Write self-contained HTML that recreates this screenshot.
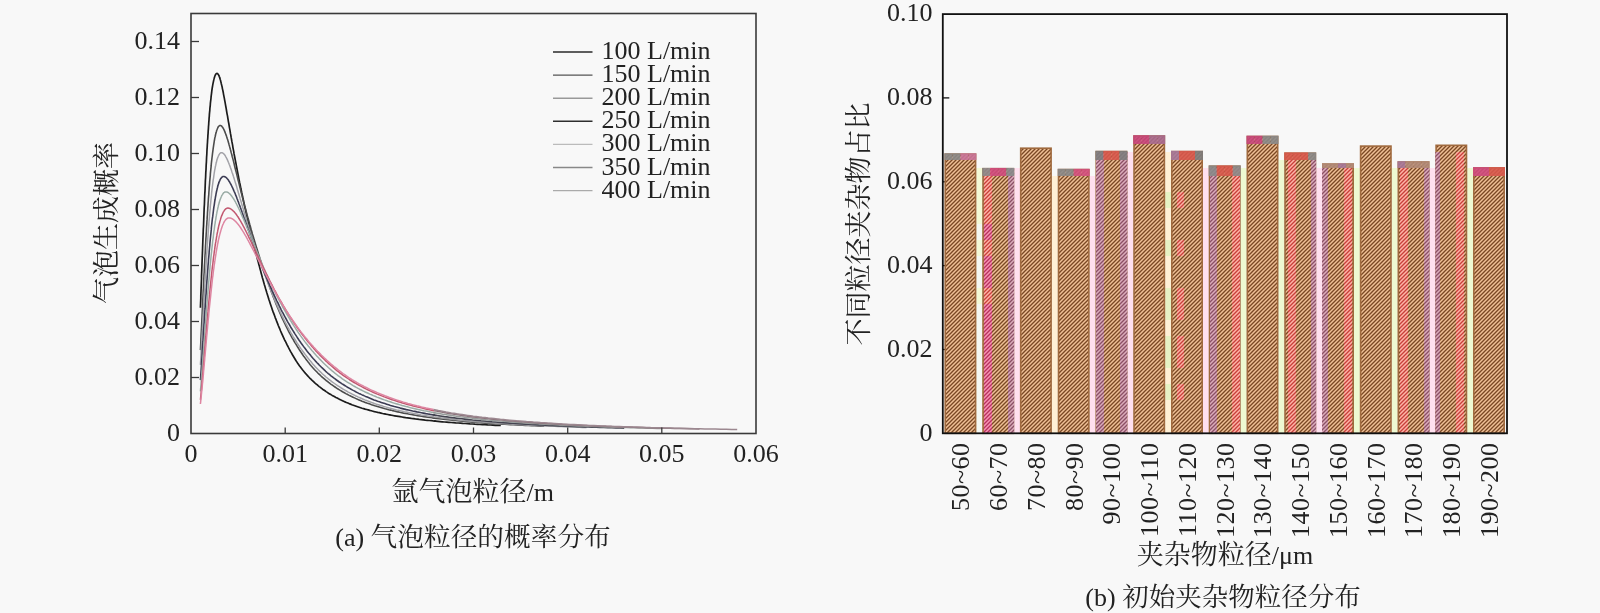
<!DOCTYPE html>
<html lang="zh">
<head>
<meta charset="utf-8">
<title>气泡粒径的概率分布 / 初始夹杂物粒径分布</title>
<style>
html,body{margin:0;padding:0;background:#f8f8f8;}
body{width:1600px;height:613px;overflow:hidden;font-family:"Liberation Serif","Noto Serif CJK SC",serif;}
svg{display:block;filter:blur(0.5px);}
</style>
</head>
<body>
<svg width="1600" height="613" viewBox="0 0 1600 613">
<defs>
<pattern id="hb" patternUnits="userSpaceOnUse" width="4" height="4"><rect width="4" height="4" fill="#efc096"/><path d="M-1 5L5 -1M-1 1L1 -1M3 5L5 3" stroke="#7a4824" stroke-width="1.35" fill="none"/></pattern>
<pattern id="hr" patternUnits="userSpaceOnUse" width="4" height="4"><rect width="4" height="4" fill="#ffb4a8"/><path d="M-1 5L5 -1M-1 1L1 -1M3 5L5 3" stroke="#c8403a" stroke-width="1.35" fill="none"/></pattern>
<pattern id="hp" patternUnits="userSpaceOnUse" width="4" height="4"><rect width="4" height="4" fill="#f794b4"/><path d="M-1 5L5 -1M-1 1L1 -1M3 5L5 3" stroke="#b8325e" stroke-width="1.35" fill="none"/></pattern>
<pattern id="hu" patternUnits="userSpaceOnUse" width="4" height="4"><rect width="4" height="4" fill="#dcacbc"/><path d="M-1 5L5 -1M-1 1L1 -1M3 5L5 3" stroke="#8c5066" stroke-width="1.35" fill="none"/></pattern>
</defs>
<rect width="1600" height="613" fill="#f8f8f8"/>
<g id="chart-a">
<polyline points="200.4,307.7 200.5,305.4 200.6,303.1 200.7,300.8 200.8,298.4 200.8,296.1 200.9,293.7 201.0,291.3 201.1,288.8 201.2,286.4 201.3,283.9 201.4,281.4 201.5,278.9 201.5,276.4 201.6,273.9 201.7,271.4 201.8,268.8 201.9,266.2 202.0,263.6 202.1,261.0 202.2,258.4 202.3,255.8 202.4,253.1 202.5,250.5 202.6,247.8 202.7,245.1 202.8,242.5 202.9,239.8 203.0,237.1 203.1,234.4 203.2,231.7 203.3,229.0 203.5,226.2 203.6,223.5 203.7,220.8 203.8,218.1 203.9,215.4 204.0,212.6 204.1,209.9 204.2,207.2 204.4,204.5 204.5,201.7 204.6,199.0 204.7,196.3 204.8,193.6 205.0,190.9 205.1,188.2 205.2,185.6 205.3,182.9 205.4,180.2 205.6,177.6 205.7,175.0 205.8,172.4 206.0,169.7 206.1,167.2 206.2,164.6 206.4,162.0 206.5,159.5 206.6,157.0 206.8,154.5 206.9,152.0 207.0,149.6 207.2,147.1 207.3,144.7 207.5,142.3 207.6,140.0 207.8,137.7 207.9,135.4 208.1,133.1 208.2,130.8 208.4,128.6 208.5,126.5 208.7,124.3 208.8,122.2 209.0,120.1 209.1,118.1 209.3,116.1 209.4,114.1 209.6,112.2 209.8,110.3 209.9,108.4 210.1,106.6 210.3,104.8 210.4,103.1 210.6,101.4 210.8,99.8 211.0,98.2 211.1,96.6 211.3,95.1 211.5,93.6 211.7,92.2 211.8,90.8 212.0,89.5 212.2,88.2 212.4,87.0 212.6,85.8 212.8,84.7 213.0,83.7 213.2,82.6 213.4,81.7 213.6,80.7 213.8,79.9 213.9,79.1 214.2,78.3 214.4,77.6 214.6,76.9 214.8,76.3 215.0,75.8 215.2,75.3 215.4,74.9 215.6,74.5 215.8,74.2 216.0,73.9 216.3,73.7 216.5,73.6 216.7,73.5 216.9,73.4 217.2,73.4 217.4,73.5 217.6,73.7 217.9,73.9 218.1,74.2 218.3,74.6 218.6,75.0 218.8,75.5 219.1,76.0 219.3,76.6 219.6,77.3 219.8,78.1 220.1,78.9 220.3,79.7 220.6,80.6 220.8,81.6 221.1,82.7 221.3,83.7 221.6,84.9 221.9,86.1 222.2,87.3 222.4,88.6 222.7,89.9 223.0,91.3 223.3,92.7 223.5,94.1 223.8,95.6 224.1,97.1 224.4,98.7 224.7,100.3 225.0,101.9 225.3,103.6 225.6,105.3 225.9,107.0 226.2,108.7 226.5,110.5 226.8,112.3 227.1,114.1 227.5,115.9 227.8,117.8 228.1,119.7 228.4,121.6 228.8,123.5 229.1,125.4 229.4,127.3 229.8,129.3 230.1,131.2 230.4,133.2 230.8,135.2 231.1,137.2 231.5,139.2 231.8,141.2 232.2,143.2 232.6,145.2 232.9,147.3 233.3,149.3 233.7,151.4 234.0,153.4 234.4,155.5 234.8,157.5 235.2,159.6 235.6,161.7 236.0,163.7 236.4,165.8 236.8,167.9 237.2,170.0 237.6,172.1 238.0,174.2 238.4,176.2 238.8,178.3 239.2,180.4 239.6,182.5 240.1,184.6 240.5,186.7 240.9,188.8 241.4,190.9 241.8,193.0 242.3,195.1 242.7,197.2 243.2,199.3 243.6,201.5 244.1,203.6 244.5,205.7 245.0,207.8 245.5,209.9 246.0,212.1 246.4,214.2 246.9,216.3 247.4,218.4 247.9,220.6 248.4,222.7 248.9,224.9 249.4,227.0 249.9,229.1 250.5,231.3 251.0,233.5 251.5,235.6 252.0,237.8 252.6,239.9 253.1,242.1 253.7,244.3 254.2,246.5 254.8,248.7 255.3,250.9 255.9,253.1 256.5,255.3 257.0,257.5 257.6,259.7 258.2,261.9 258.8,264.2 259.4,266.4 260.0,268.7 260.6,270.9 261.2,273.2 261.8,275.4 262.4,277.7 263.1,280.0 263.7,282.2 264.3,284.4 265.0,286.6 265.6,288.8 266.3,291.0 266.9,293.1 267.6,295.3 268.3,297.4 268.9,299.5 269.6,301.6 270.3,303.7 271.0,305.8 271.7,307.8 272.4,309.9 273.1,311.9 273.9,313.9 274.6,315.8 275.3,317.8 276.1,319.7 276.8,321.7 277.6,323.6 278.3,325.5 279.1,327.3 279.9,329.2 280.6,331.0 281.4,332.8 282.2,334.6 283.0,336.4 283.8,338.1 284.6,339.8 285.5,341.5 286.3,343.2 287.1,344.9 288.0,346.5 288.8,348.2 289.7,349.8 290.5,351.4 291.4,352.9 292.3,354.5 293.2,356.0 294.1,357.5 295.0,359.0 295.9,360.5 296.8,361.9 297.7,363.3 298.7,364.7 299.6,366.0 300.6,367.3 301.5,368.5 302.5,369.8 303.5,371.0 304.5,372.2 305.5,373.4 306.5,374.5 307.5,375.6 308.5,376.7 309.5,377.8 310.6,378.8 311.6,379.9 312.7,380.9 313.8,381.9 314.8,382.9 315.9,383.8 317.0,384.7 318.1,385.7 319.2,386.6 320.4,387.4 321.5,388.3 322.6,389.2 323.8,390.0 325.0,390.8 326.1,391.6 327.3,392.4 328.5,393.2 329.7,393.9 330.9,394.6 332.2,395.4 333.4,396.1 334.7,396.8 335.9,397.5 337.2,398.1 338.5,398.8 339.8,399.4 341.1,400.1 342.4,400.7 343.7,401.3 345.0,401.9 346.4,402.5 347.8,403.0 349.1,403.6 350.5,404.1 351.9,404.7 353.3,405.2 354.8,405.7 356.2,406.2 357.6,406.7 359.1,407.2 360.6,407.7 362.1,408.2 363.6,408.6 365.1,409.1 366.6,409.5 368.2,409.9 369.7,410.4 371.3,410.8 372.9,411.2 374.4,411.6 376.1,412.0 377.7,412.4 379.3,412.7 381.0,413.1 382.6,413.5 384.3,413.8 386.0,414.2 387.7,414.5 389.4,414.8 391.2,415.2 392.9,415.5 394.7,415.8 396.5,416.1 398.3,416.4 400.1,416.7 402.0,417.0 403.8,417.3 405.7,417.6 407.6,417.8 409.5,418.1 411.4,418.4 413.3,418.6 415.3,418.9 417.2,419.1 419.2,419.4 421.2,419.6 423.2,419.8 425.3,420.1 427.3,420.3 429.4,420.5 431.5,420.7 433.6,421.0 435.7,421.2" fill="none" stroke="#1c1c1c" stroke-width="1.7" stroke-linejoin="round"/>
<polyline points="433.6,421.0 435.7,421.2 437.9,421.4 440.0,421.6 442.2,421.8 444.4,422.0 446.7,422.1 448.9,422.3 451.2,422.5 453.4,422.7 455.7,422.9 458.1,423.0 460.4,423.2 462.8,423.4 465.2,423.5 467.6,423.7 470.0,423.9 472.4,424.0 474.9,424.2 477.4,424.3 479.9,424.5 482.4,424.6 485.0,424.7 487.6,424.9 490.2,425.0 492.8,425.1 495.4,425.3 498.1,425.4 500.8,425.5" fill="none" stroke="#1c1c1c" stroke-width="1.7" stroke-linejoin="round"/>
<polyline points="200.4,350.1 200.5,348.3 200.6,346.5 200.7,344.7 200.8,342.9 200.9,341.1 200.9,339.2 201.0,337.3 201.1,335.4 201.2,333.5 201.3,331.5 201.4,329.6 201.5,327.6 201.6,325.5 201.7,323.5 201.8,321.5 201.9,319.4 202.0,317.3 202.1,315.2 202.2,313.1 202.3,310.9 202.4,308.8 202.5,306.6 202.6,304.4 202.7,302.2 202.8,299.9 202.9,297.7 203.0,295.4 203.1,293.2 203.2,290.9 203.4,288.6 203.5,286.3 203.6,284.0 203.7,281.6 203.8,279.3 203.9,276.9 204.0,274.6 204.2,272.2 204.3,269.8 204.4,267.4 204.5,265.0 204.7,262.6 204.8,260.2 204.9,257.8 205.0,255.4 205.2,253.0 205.3,250.6 205.4,248.2 205.5,245.7 205.7,243.3 205.8,240.9 205.9,238.5 206.1,236.1 206.2,233.7 206.4,231.3 206.5,228.9 206.6,226.5 206.8,224.1 206.9,221.7 207.1,219.4 207.2,217.0 207.4,214.7 207.5,212.3 207.7,210.0 207.8,207.7 208.0,205.4 208.1,203.1 208.3,200.8 208.4,198.6 208.6,196.4 208.8,194.2 208.9,192.0 209.1,189.8 209.2,187.6 209.4,185.5 209.6,183.4 209.7,181.3 209.9,179.3 210.1,177.3 210.3,175.3 210.4,173.3 210.6,171.4 210.8,169.4 211.0,167.6 211.2,165.7 211.3,163.9 211.5,162.1 211.7,160.4 211.9,158.6 212.1,157.0 212.3,155.3 212.5,153.7 212.7,152.1 212.9,150.6 213.1,149.1 213.3,147.7 213.5,146.3 213.7,144.9 213.9,143.6 214.1,142.3 214.3,141.0 214.5,139.9 214.7,138.7 214.9,137.6 215.2,136.5 215.4,135.5 215.6,134.5 215.8,133.6 216.1,132.8 216.3,131.9 216.5,131.2 216.7,130.4 217.0,129.7 217.2,129.1 217.5,128.5 217.7,128.0 217.9,127.5 218.2,127.1 218.4,126.7 218.7,126.4 218.9,126.1 219.2,125.9 219.4,125.7 219.7,125.6 220.0,125.5 220.2,125.5 220.5,125.5 220.8,125.6 221.0,125.7 221.3,125.9 221.6,126.1 221.9,126.4 222.1,126.7 222.4,127.1 222.7,127.5 223.0,127.9 223.3,128.4 223.6,129.0 223.9,129.6 224.2,130.2 224.5,130.9 224.8,131.6 225.1,132.4 225.4,133.2 225.7,134.0 226.0,134.9 226.4,135.8 226.7,136.8 227.0,137.7 227.3,138.8 227.7,139.8 228.0,140.9 228.3,142.1 228.7,143.2 229.0,144.4 229.4,145.7 229.7,146.9 230.1,148.2 230.4,149.5 230.8,150.9 231.1,152.2 231.5,153.6 231.9,155.0 232.2,156.5 232.6,157.9 233.0,159.4 233.4,160.9 233.8,162.5 234.2,164.0 234.5,165.6 234.9,167.2 235.3,168.8 235.7,170.4 236.2,172.0 236.6,173.7 237.0,175.4 237.4,177.1 237.8,178.8 238.2,180.5 238.7,182.2 239.1,183.9 239.5,185.7 240.0,187.4 240.4,189.2 240.9,191.0 241.3,192.8 241.8,194.6 242.3,196.4 242.7,198.2 243.2,200.0 243.7,201.9 244.1,203.7 244.6,205.5 245.1,207.4 245.6,209.3 246.1,211.1 246.6,213.0 247.1,214.9 247.6,216.7 248.1,218.6 248.7,220.5 249.2,222.4 249.7,224.3 250.3,226.2 250.8,228.1 251.3,230.0 251.9,232.0 252.4,233.9 253.0,235.8 253.6,237.7 254.1,239.6 254.7,241.6 255.3,243.5 255.9,245.4 256.5,247.4 257.1,249.3 257.7,251.3 258.3,253.2 258.9,255.2 259.5,257.1 260.1,259.1 260.8,261.0 261.4,263.0 262.0,264.9 262.7,266.9 263.3,268.8 264.0,270.8 264.6,272.8 265.3,274.7 266.0,276.7 266.7,278.7 267.4,280.7 268.1,282.6 268.8,284.6 269.5,286.6 270.2,288.6 270.9,290.6 271.6,292.5 272.4,294.5 273.1,296.4 273.9,298.4 274.6,300.3 275.4,302.2 276.1,304.1 276.9,306.0 277.7,307.9 278.5,309.8 279.3,311.6 280.1,313.5 280.9,315.3 281.7,317.1 282.5,318.9 283.4,320.7 284.2,322.5 285.1,324.2 285.9,326.0 286.8,327.7 287.7,329.4 288.5,331.1 289.4,332.8 290.3,334.5 291.2,336.2 292.1,337.8 293.1,339.4 294.0,341.0 294.9,342.6 295.9,344.2 296.8,345.7 297.8,347.3 298.8,348.8 299.7,350.3 300.7,351.8 301.7,353.3 302.7,354.8 303.7,356.2 304.8,357.6 305.8,359.0 306.9,360.4 307.9,361.8 309.0,363.1 310.0,364.5 311.1,365.8 312.2,367.0 313.3,368.3 314.4,369.5 315.6,370.7 316.7,371.8 317.8,373.0 319.0,374.1 320.2,375.2 321.3,376.3 322.5,377.4 323.7,378.4 324.9,379.4 326.1,380.5 327.4,381.4 328.6,382.4 329.9,383.4 331.1,384.3 332.4,385.2 333.7,386.1 335.0,387.0 336.3,387.9 337.6,388.8 339.0,389.6 340.3,390.4 341.7,391.2 343.0,392.0 344.4,392.8 345.8,393.6 347.2,394.3 348.7,395.1 350.1,395.8 351.5,396.5 353.0,397.2 354.5,397.9 356.0,398.6 357.5,399.3 359.0,399.9 360.5,400.5 362.0,401.2 363.6,401.8 365.2,402.4 366.8,403.0 368.4,403.5 370.0,404.1 371.6,404.7 373.3,405.2 374.9,405.8 376.6,406.3 378.3,406.8 380.0,407.3 381.7,407.8 383.4,408.3 385.2,408.8 387.0,409.2 388.7,409.7 390.5,410.1 392.4,410.6 394.2,411.0 396.0,411.4 397.9,411.9 399.8,412.3 401.7,412.7 403.6,413.1 405.5,413.4 407.5,413.8 409.5,414.2 411.4,414.5 413.5,414.9 415.5,415.3 417.5,415.6 419.6,415.9 421.7,416.3 423.8,416.6 425.9,416.9 428.0,417.2 430.2,417.5 432.4,417.8 434.6,418.1" fill="none" stroke="#4c4c4c" stroke-width="1.6" stroke-linejoin="round"/>
<polyline points="432.4,417.8 434.6,418.1 436.8,418.4 439.0,418.7 441.3,418.9 443.5,419.2 445.8,419.5 448.2,419.7 450.5,420.0 452.9,420.2 455.2,420.5 457.6,420.7 460.1,421.0 462.5,421.2 465.0,421.4 467.5,421.6 470.0,421.9 472.5,422.1 475.1,422.3 477.7,422.5 480.3,422.7 482.9,422.9 485.6,423.1 488.3,423.3 491.0,423.4 493.7,423.6 496.5,423.8 499.2,424.0 502.1,424.2 504.9,424.3 507.7,424.5 510.6,424.6 513.5,424.8 516.5,425.0 519.4,425.1 522.4,425.3 525.4,425.4 528.5,425.5 531.6,425.7 534.7,425.8 537.8,426.0 540.9,426.1 544.1,426.2" fill="none" stroke="#4c4c4c" stroke-width="1.6" stroke-linejoin="round"/>
<polyline points="200.4,364.9 200.5,363.4 200.6,361.8 200.7,360.2 200.8,358.6 200.9,357.0 201.0,355.3 201.1,353.6 201.1,351.9 201.2,350.2 201.3,348.5 201.4,346.7 201.5,344.9 201.6,343.1 201.7,341.3 201.8,339.4 201.9,337.6 202.0,335.7 202.1,333.8 202.2,331.9 202.4,329.9 202.5,328.0 202.6,326.0 202.7,324.0 202.8,322.0 202.9,319.9 203.0,317.9 203.1,315.8 203.2,313.7 203.3,311.6 203.5,309.5 203.6,307.4 203.7,305.3 203.8,303.1 203.9,301.0 204.1,298.8 204.2,296.6 204.3,294.4 204.4,292.2 204.6,290.0 204.7,287.8 204.8,285.5 204.9,283.3 205.1,281.0 205.2,278.8 205.3,276.5 205.5,274.3 205.6,272.0 205.7,269.7 205.9,267.5 206.0,265.2 206.2,262.9 206.3,260.6 206.5,258.4 206.6,256.1 206.7,253.8 206.9,251.6 207.0,249.3 207.2,247.1 207.3,244.8 207.5,242.6 207.7,240.3 207.8,238.1 208.0,235.9 208.1,233.7 208.3,231.5 208.4,229.3 208.6,227.1 208.8,225.0 208.9,222.8 209.1,220.7 209.3,218.6 209.5,216.5 209.6,214.4 209.8,212.4 210.0,210.4 210.2,208.4 210.3,206.4 210.5,204.4 210.7,202.5 210.9,200.5 211.1,198.7 211.3,196.8 211.5,195.0 211.6,193.2 211.8,191.4 212.0,189.6 212.2,187.9 212.4,186.2 212.6,184.6 212.8,183.0 213.0,181.4 213.2,179.9 213.5,178.3 213.7,176.9 213.9,175.4 214.1,174.0 214.3,172.7 214.5,171.4 214.7,170.1 215.0,168.8 215.2,167.6 215.4,166.5 215.7,165.4 215.9,164.3 216.1,163.3 216.4,162.3 216.6,161.4 216.8,160.5 217.1,159.6 217.3,158.8 217.6,158.1 217.8,157.4 218.1,156.7 218.3,156.1 218.6,155.6 218.8,155.1 219.1,154.6 219.4,154.2 219.6,153.8 219.9,153.5 220.2,153.2 220.4,153.0 220.7,152.9 221.0,152.7 221.3,152.7 221.6,152.7 221.9,152.7 222.1,152.8 222.4,152.9 222.7,153.0 223.0,153.2 223.3,153.5 223.6,153.7 223.9,154.0 224.2,154.4 224.6,154.8 224.9,155.2 225.2,155.7 225.5,156.2 225.8,156.8 226.2,157.4 226.5,158.0 226.8,158.6 227.2,159.4 227.5,160.1 227.8,160.9 228.2,161.7 228.5,162.5 228.9,163.4 229.2,164.3 229.6,165.2 230.0,166.2 230.3,167.2 230.7,168.2 231.1,169.3 231.5,170.4 231.8,171.5 232.2,172.7 232.6,173.8 233.0,175.0 233.4,176.3 233.8,177.5 234.2,178.8 234.6,180.1 235.0,181.4 235.4,182.8 235.8,184.1 236.3,185.5 236.7,186.9 237.1,188.4 237.5,189.8 238.0,191.3 238.4,192.8 238.9,194.3 239.3,195.8 239.8,197.3 240.2,198.9 240.7,200.4 241.2,202.0 241.6,203.6 242.1,205.2 242.6,206.9 243.1,208.5 243.6,210.1 244.0,211.8 244.5,213.5 245.0,215.1 245.6,216.8 246.1,218.5 246.6,220.3 247.1,222.0 247.6,223.7 248.2,225.4 248.7,227.2 249.2,228.9 249.8,230.7 250.3,232.4 250.9,234.2 251.5,236.0 252.0,237.8 252.6,239.6 253.2,241.4 253.8,243.2 254.4,245.0 254.9,246.8 255.5,248.6 256.2,250.4 256.8,252.2 257.4,254.0 258.0,255.9 258.6,257.7 259.3,259.5 259.9,261.3 260.6,263.2 261.2,265.0 261.9,266.8 262.5,268.7 263.2,270.5 263.9,272.4 264.6,274.2 265.3,276.1 266.0,277.9 266.7,279.7 267.4,281.6 268.1,283.4 268.8,285.3 269.5,287.1 270.3,289.0 271.0,290.8 271.8,292.7 272.5,294.5 273.3,296.4 274.1,298.2 274.8,300.1 275.6,301.9 276.4,303.7 277.2,305.5 278.0,307.3 278.9,309.1 279.7,310.9 280.5,312.7 281.4,314.4 282.2,316.2 283.1,317.9 283.9,319.7 284.8,321.4 285.7,323.1 286.6,324.8 287.5,326.5 288.4,328.1 289.3,329.8 290.2,331.4 291.1,333.1 292.1,334.7 293.0,336.3 294.0,337.9 295.0,339.5 295.9,341.0 296.9,342.6 297.9,344.1 298.9,345.6 299.9,347.1 300.9,348.6 302.0,350.1 303.0,351.5 304.1,353.0 305.1,354.4 306.2,355.8 307.3,357.2 308.4,358.6 309.5,360.0 310.6,361.3 311.7,362.6 312.8,364.0 314.0,365.3 315.1,366.6 316.3,367.8 317.5,369.0 318.7,370.2 319.9,371.4 321.1,372.5 322.3,373.7 323.5,374.8 324.8,375.9 326.0,377.0 327.3,378.0 328.6,379.1 329.9,380.1 331.2,381.1 332.5,382.1 333.8,383.0 335.2,384.0 336.5,384.9 337.9,385.8 339.3,386.7 340.7,387.6 342.1,388.5 343.5,389.4 344.9,390.2 346.4,391.0 347.8,391.8 349.3,392.6 350.8,393.4 352.3,394.2 353.8,394.9 355.3,395.7 356.9,396.4 358.4,397.1 360.0,397.8 361.6,398.5 363.2,399.2 364.8,399.9 366.4,400.5 368.1,401.1 369.7,401.8 371.4,402.4 373.1,403.0 374.8,403.6 376.5,404.2 378.3,404.7 380.0,405.3 381.8,405.8 383.6,406.4 385.4,406.9 387.2,407.4 389.1,407.9 390.9,408.4 392.8,408.9 394.7,409.4 396.6,409.9 398.6,410.3 400.5,410.8 402.5,411.2 404.5,411.7 406.5,412.1 408.5,412.5 410.5,412.9 412.6,413.3 414.7,413.7 416.8,414.1 418.9,414.5 421.0,414.9 423.2,415.2 425.4,415.6 427.6,415.9 429.8,416.3 432.0,416.6 434.3,416.9" fill="none" stroke="#a2a2a8" stroke-width="1.5" stroke-linejoin="round"/>
<polyline points="434.3,416.9 436.6,417.3 438.9,417.6 441.2,417.9 443.6,418.2 445.9,418.5 448.3,418.8 450.7,419.1 453.2,419.4 455.6,419.6 458.1,419.9 460.6,420.2 463.2,420.4 465.7,420.7 468.3,420.9 470.9,421.2 473.5,421.4 476.2,421.7 478.9,421.9 481.6,422.1 484.3,422.3 487.0,422.5 489.8,422.8 492.6,423.0 495.5,423.2 498.3,423.4 501.2,423.6 504.1,423.8 507.0,423.9 510.0,424.1 513.0,424.3 516.0,424.5 519.1,424.7 522.2,424.8 525.3,425.0 528.4,425.2 531.6,425.3 534.8,425.5 538.0,425.6 541.3,425.8 544.5,425.9 547.9,426.1 551.2,426.2 554.6,426.3 558.0,426.5 561.5,426.6 564.9,426.7 568.4,426.9 572.0,427.0 575.6,427.1 579.2,427.2 582.8,427.4 586.5,427.5" fill="none" stroke="#9a9a9e" stroke-width="1.5" stroke-linejoin="round"/>
<polyline points="200.4,380.1 200.5,378.8 200.6,377.5 200.7,376.2 200.8,374.8 200.9,373.4 201.0,372.0 201.1,370.6 201.2,369.1 201.3,367.6 201.4,366.1 201.5,364.6 201.6,363.1 201.7,361.5 201.8,359.9 201.9,358.3 202.0,356.7 202.1,355.1 202.2,353.4 202.3,351.7 202.4,350.0 202.5,348.3 202.6,346.6 202.7,344.8 202.8,343.0 203.0,341.2 203.1,339.4 203.2,337.6 203.3,335.7 203.4,333.9 203.5,332.0 203.7,330.1 203.8,328.2 203.9,326.2 204.0,324.3 204.2,322.3 204.3,320.3 204.4,318.4 204.5,316.4 204.7,314.3 204.8,312.3 204.9,310.3 205.1,308.2 205.2,306.2 205.3,304.1 205.5,302.0 205.6,299.9 205.8,297.8 205.9,295.7 206.1,293.6 206.2,291.5 206.3,289.4 206.5,287.3 206.6,285.2 206.8,283.0 206.9,280.9 207.1,278.8 207.2,276.6 207.4,274.5 207.6,272.4 207.7,270.2 207.9,268.1 208.0,266.0 208.2,263.9 208.4,261.8 208.5,259.7 208.7,257.6 208.9,255.5 209.1,253.4 209.2,251.3 209.4,249.3 209.6,247.2 209.8,245.2 209.9,243.1 210.1,241.1 210.3,239.1 210.5,237.2 210.7,235.2 210.9,233.3 211.1,231.3 211.3,229.4 211.4,227.5 211.6,225.7 211.8,223.8 212.0,222.0 212.2,220.2 212.4,218.5 212.7,216.7 212.9,215.0 213.1,213.3 213.3,211.6 213.5,210.0 213.7,208.4 213.9,206.8 214.2,205.3 214.4,203.8 214.6,202.3 214.8,200.9 215.1,199.5 215.3,198.1 215.5,196.8 215.8,195.5 216.0,194.2 216.2,193.0 216.5,191.8 216.7,190.7 217.0,189.6 217.2,188.5 217.5,187.5 217.7,186.5 218.0,185.6 218.2,184.7 218.5,183.9 218.8,183.1 219.0,182.3 219.3,181.6 219.6,180.9 219.9,180.3 220.1,179.7 220.4,179.2 220.7,178.7 221.0,178.3 221.3,177.9 221.6,177.5 221.9,177.2 222.2,177.0 222.5,176.8 222.8,176.6 223.1,176.5 223.4,176.5 223.7,176.5 224.0,176.5 224.3,176.6 224.6,176.7 225.0,176.8 225.3,177.0 225.6,177.2 225.9,177.4 226.3,177.7 226.6,178.0 227.0,178.4 227.3,178.8 227.7,179.2 228.0,179.6 228.4,180.1 228.7,180.7 229.1,181.2 229.5,181.8 229.8,182.4 230.2,183.1 230.6,183.8 231.0,184.5 231.3,185.2 231.7,186.0 232.1,186.8 232.5,187.7 232.9,188.5 233.3,189.4 233.7,190.4 234.1,191.3 234.6,192.3 235.0,193.3 235.4,194.3 235.8,195.4 236.3,196.5 236.7,197.6 237.1,198.7 237.6,199.9 238.0,201.1 238.5,202.3 238.9,203.5 239.4,204.8 239.9,206.0 240.3,207.3 240.8,208.6 241.3,210.0 241.8,211.3 242.2,212.7 242.7,214.1 243.2,215.5 243.7,216.9 244.2,218.3 244.8,219.8 245.3,221.2 245.8,222.7 246.3,224.2 246.9,225.7 247.4,227.2 247.9,228.8 248.5,230.3 249.0,231.9 249.6,233.4 250.2,235.0 250.7,236.6 251.3,238.2 251.9,239.8 252.5,241.4 253.1,243.0 253.7,244.7 254.3,246.3 254.9,248.0 255.5,249.6 256.1,251.3 256.7,253.0 257.4,254.6 258.0,256.3 258.6,258.0 259.3,259.7 259.9,261.4 260.6,263.1 261.3,264.8 262.0,266.5 262.6,268.2 263.3,269.9 264.0,271.7 264.7,273.4 265.4,275.1 266.2,276.8 266.9,278.5 267.6,280.3 268.3,282.0 269.1,283.7 269.8,285.5 270.6,287.2 271.4,288.9 272.1,290.6 272.9,292.4 273.7,294.1 274.5,295.8 275.3,297.5 276.1,299.3 276.9,301.0 277.8,302.7 278.6,304.4 279.4,306.1 280.3,307.9 281.1,309.6 282.0,311.3 282.9,312.9 283.8,314.6 284.7,316.3 285.6,318.0 286.5,319.6 287.4,321.3 288.3,322.9 289.3,324.5 290.2,326.1 291.1,327.8 292.1,329.3 293.1,330.9 294.1,332.5 295.1,334.1 296.1,335.6 297.1,337.2 298.1,338.7 299.1,340.2 300.2,341.7 301.2,343.2 302.3,344.7 303.3,346.1 304.4,347.6 305.5,349.0 306.6,350.5 307.7,351.9 308.8,353.3 310.0,354.6 311.1,356.0 312.3,357.4 313.4,358.7 314.6,360.0 315.8,361.4 317.0,362.7 318.2,363.9 319.4,365.2 320.7,366.5 321.9,367.7 323.2,368.9 324.5,370.1 325.7,371.3 327.0,372.5 328.3,373.6 329.7,374.7 331.0,375.8 332.4,376.9 333.7,377.9 335.1,378.9 336.5,380.0 337.9,381.0 339.3,382.0 340.7,382.9 342.1,383.9 343.6,384.8 345.1,385.7 346.5,386.6 348.0,387.5 349.6,388.4 351.1,389.3 352.6,390.1 354.2,390.9 355.7,391.8 357.3,392.6 358.9,393.4 360.5,394.1 362.2,394.9 363.8,395.6 365.5,396.4 367.2,397.1 368.9,397.8 370.6,398.5 372.3,399.2 374.0,399.9 375.8,400.5 377.6,401.2 379.4,401.8 381.2,402.4 383.0,403.0 384.9,403.6 386.7,404.2 388.6,404.8 390.5,405.4 392.4,405.9 394.4,406.5 396.3,407.0 398.3,407.5 400.3,408.1 402.3,408.6 404.3,409.1 406.4,409.6 408.4,410.0 410.5,410.5 412.7,411.0 414.8,411.4 416.9,411.9 419.1,412.3 421.3,412.7 423.5,413.1 425.8,413.6 428.0,414.0 430.3,414.4 432.6,414.7 434.9,415.1" fill="none" stroke="#3c3c54" stroke-width="1.6" stroke-linejoin="round"/>
<polyline points="432.6,414.7 434.9,415.1 437.3,415.5 439.6,415.9 442.0,416.2 444.4,416.6 446.9,416.9 449.3,417.2 451.8,417.6 454.3,417.9 456.9,418.2 459.4,418.5 462.0,418.8 464.6,419.1 467.2,419.4 469.9,419.7 472.6,420.0 475.3,420.2 478.0,420.5 480.8,420.8 483.6,421.0 486.4,421.3 489.2,421.5 492.1,421.8 495.0,422.0 497.9,422.2 500.9,422.5 503.8,422.7 506.8,422.9 509.9,423.1 513.0,423.3 516.0,423.5 519.2,423.7 522.3,423.9 525.5,424.1 528.7,424.3 532.0,424.5 535.3,424.7 538.6,424.9 541.9,425.0 545.3,425.2 548.7,425.4 552.1,425.5 555.6,425.7 559.1,425.9 562.7,426.0 566.2,426.2 569.8,426.3 573.5,426.5 577.2,426.6 580.9,426.7 584.6,426.9 588.4,427.0 592.2,427.1 596.1,427.3 600.0,427.4 603.9,427.5 607.9,427.6 611.9,427.8 616.0,427.9 620.0,428.0 624.2,428.1" fill="none" stroke="#444450" stroke-width="1.6" stroke-linejoin="round"/>
<polyline points="200.4,391.4 200.5,390.3 200.6,389.1 200.7,388.0 200.8,386.8 200.9,385.6 201.0,384.4 201.1,383.2 201.2,381.9 201.3,380.6 201.4,379.3 201.5,378.0 201.6,376.7 201.7,375.3 201.8,373.9 201.9,372.5 202.0,371.1 202.1,369.7 202.2,368.2 202.3,366.7 202.5,365.2 202.6,363.7 202.7,362.1 202.8,360.6 202.9,359.0 203.0,357.4 203.1,355.7 203.3,354.1 203.4,352.4 203.5,350.7 203.6,349.0 203.8,347.3 203.9,345.6 204.0,343.8 204.1,342.0 204.3,340.3 204.4,338.5 204.5,336.6 204.7,334.8 204.8,332.9 204.9,331.1 205.1,329.2 205.2,327.3 205.3,325.4 205.5,323.5 205.6,321.5 205.8,319.6 205.9,317.6 206.1,315.7 206.2,313.7 206.4,311.7 206.5,309.7 206.7,307.7 206.8,305.7 207.0,303.7 207.1,301.6 207.3,299.6 207.4,297.6 207.6,295.5 207.8,293.5 207.9,291.4 208.1,289.4 208.3,287.4 208.4,285.3 208.6,283.3 208.8,281.2 209.0,279.2 209.1,277.1 209.3,275.1 209.5,273.1 209.7,271.0 209.9,269.0 210.0,267.0 210.2,265.0 210.4,263.0 210.6,261.0 210.8,259.0 211.0,257.1 211.2,255.1 211.4,253.2 211.6,251.3 211.8,249.4 212.0,247.5 212.2,245.6 212.4,243.8 212.6,241.9 212.8,240.1 213.1,238.3 213.3,236.6 213.5,234.8 213.7,233.1 213.9,231.4 214.2,229.7 214.4,228.1 214.6,226.4 214.8,224.8 215.1,223.3 215.3,221.7 215.6,220.2 215.8,218.8 216.0,217.3 216.3,215.9 216.5,214.5 216.8,213.2 217.0,211.9 217.3,210.6 217.6,209.4 217.8,208.2 218.1,207.0 218.3,205.9 218.6,204.8 218.9,203.8 219.2,202.8 219.4,201.8 219.7,200.9 220.0,200.0 220.3,199.2 220.6,198.4 220.9,197.7 221.2,197.0 221.5,196.3 221.7,195.7 222.1,195.1 222.4,194.6 222.7,194.1 223.0,193.7 223.3,193.3 223.6,192.9 223.9,192.6 224.3,192.4 224.6,192.2 224.9,192.0 225.2,191.9 225.6,191.9 225.9,191.9 226.3,191.9 226.6,191.9 227.0,192.0 227.3,192.2 227.7,192.3 228.0,192.5 228.4,192.7 228.8,193.0 229.1,193.3 229.5,193.6 229.9,194.0 230.3,194.4 230.7,194.8 231.0,195.2 231.4,195.7 231.8,196.2 232.2,196.8 232.6,197.4 233.0,198.0 233.5,198.6 233.9,199.3 234.3,200.0 234.7,200.7 235.2,201.5 235.6,202.2 236.0,203.1 236.5,203.9 236.9,204.8 237.4,205.7 237.8,206.6 238.3,207.5 238.7,208.5 239.2,209.5 239.7,210.5 240.2,211.6 240.7,212.6 241.1,213.7 241.6,214.9 242.1,216.0 242.6,217.2 243.1,218.3 243.7,219.5 244.2,220.8 244.7,222.0 245.2,223.3 245.8,224.5 246.3,225.8 246.8,227.2 247.4,228.5 247.9,229.8 248.5,231.2 249.1,232.6 249.6,234.0 250.2,235.4 250.8,236.8 251.4,238.3 252.0,239.7 252.6,241.2 253.2,242.7 253.8,244.2 254.4,245.7 255.0,247.2 255.7,248.7 256.3,250.3 256.9,251.8 257.6,253.4 258.2,254.9 258.9,256.5 259.6,258.1 260.2,259.7 260.9,261.3 261.6,262.9 262.3,264.5 263.0,266.1 263.7,267.7 264.4,269.3 265.1,271.0 265.9,272.6 266.6,274.3 267.4,275.9 268.1,277.5 268.9,279.2 269.6,280.8 270.4,282.5 271.2,284.1 272.0,285.8 272.8,287.5 273.6,289.1 274.4,290.8 275.2,292.4 276.0,294.1 276.9,295.8 277.7,297.4 278.6,299.1 279.4,300.7 280.3,302.4 281.2,304.0 282.1,305.7 282.9,307.3 283.9,309.0 284.8,310.6 285.7,312.2 286.6,313.9 287.6,315.5 288.5,317.1 289.5,318.7 290.4,320.3 291.4,321.9 292.4,323.5 293.4,325.1 294.4,326.7 295.4,328.2 296.4,329.8 297.5,331.3 298.5,332.9 299.6,334.4 300.6,335.9 301.7,337.4 302.8,338.9 303.9,340.4 305.0,341.9 306.1,343.3 307.3,344.8 308.4,346.2 309.6,347.6 310.7,349.1 311.9,350.5 313.1,351.8 314.3,353.2 315.5,354.6 316.7,355.9 318.0,357.3 319.2,358.6 320.5,359.9 321.8,361.2 323.0,362.5 324.3,363.8 325.6,365.0 327.0,366.3 328.3,367.5 329.7,368.7 331.0,369.9 332.4,371.1 333.8,372.2 335.2,373.4 336.6,374.5 338.0,375.6 339.5,376.7 340.9,377.7 342.4,378.8 343.9,379.8 345.4,380.8 346.9,381.8 348.5,382.8 350.0,383.7 351.6,384.7 353.1,385.6 354.7,386.5 356.3,387.4 358.0,388.3 359.6,389.2 361.3,390.0 362.9,390.8 364.6,391.7 366.3,392.5 368.1,393.3 369.8,394.1 371.6,394.8 373.3,395.6 375.1,396.3 376.9,397.1 378.8,397.8 380.6,398.5 382.5,399.2 384.4,399.9 386.3,400.5 388.2,401.2 390.1,401.8 392.1,402.5 394.0,403.1 396.0,403.7 398.1,404.3 400.1,404.9 402.1,405.5 404.2,406.0 406.3,406.6 408.4,407.1 410.6,407.7 412.7,408.2 414.9,408.7 417.1,409.2 419.3,409.7 421.6,410.2 423.8,410.7 426.1,411.1 428.4,411.6 430.8,412.0 433.1,412.5 435.5,412.9" fill="none" stroke="#9aaca6" stroke-width="1.5" stroke-linejoin="round"/>
<polyline points="433.1,412.5 435.5,412.9 437.9,413.3 440.3,413.7 442.8,414.2 445.3,414.6 447.8,414.9 450.3,415.3 452.8,415.7 455.4,416.1 458.0,416.4 460.6,416.8 463.3,417.1 466.0,417.5 468.7,417.8 471.4,418.1 474.1,418.5 476.9,418.8 479.7,419.1 482.6,419.4 485.4,419.7 488.3,420.0 491.3,420.2 494.2,420.5 497.2,420.8 500.2,421.1 503.2,421.3 506.3,421.6 509.4,421.8 512.5,422.1 515.7,422.3 518.9,422.5 522.1,422.8 525.4,423.0 528.6,423.2 532.0,423.4 535.3,423.6 538.7,423.8 542.1,424.0 545.6,424.2 549.0,424.4 552.6,424.6 556.1,424.8 559.7,425.0 563.3,425.2 567.0,425.4 570.7,425.5 574.4,425.7 578.2,425.9 582.0,426.0 585.8,426.2 589.7,426.3 593.6,426.5 597.6,426.6 601.6,426.8 605.6,426.9 609.7,427.0 613.8,427.2 618.0,427.3 622.2,427.4 626.4,427.6 630.7,427.7 635.0,427.8 639.4,427.9 643.8,428.0 648.2,428.2 652.7,428.3 657.3,428.4 661.8,428.5" fill="none" stroke="#969c9a" stroke-width="1.5" stroke-linejoin="round"/>
<polyline points="200.4,399.9 200.5,399.0 200.6,398.0 200.7,397.0 200.8,396.0 200.9,395.0 201.0,394.0 201.1,392.9 201.2,391.8 201.3,390.7 201.4,389.6 201.5,388.5 201.6,387.3 201.7,386.1 201.8,384.9 201.9,383.7 202.0,382.5 202.2,381.2 202.3,379.9 202.4,378.6 202.5,377.3 202.6,375.9 202.7,374.6 202.8,373.2 203.0,371.8 203.1,370.4 203.2,368.9 203.3,367.5 203.4,366.0 203.6,364.5 203.7,362.9 203.8,361.4 204.0,359.8 204.1,358.3 204.2,356.7 204.4,355.1 204.5,353.4 204.6,351.8 204.8,350.1 204.9,348.4 205.0,346.7 205.2,345.0 205.3,343.3 205.5,341.5 205.6,339.8 205.7,338.0 205.9,336.2 206.0,334.4 206.2,332.6 206.4,330.8 206.5,328.9 206.7,327.1 206.8,325.2 207.0,323.3 207.1,321.4 207.3,319.6 207.5,317.7 207.6,315.7 207.8,313.8 208.0,311.9 208.1,310.0 208.3,308.0 208.5,306.1 208.7,304.2 208.8,302.2 209.0,300.3 209.2,298.3 209.4,296.4 209.6,294.4 209.7,292.5 209.9,290.5 210.1,288.6 210.3,286.7 210.5,284.7 210.7,282.8 210.9,280.9 211.1,279.0 211.3,277.1 211.5,275.2 211.7,273.3 211.9,271.4 212.1,269.5 212.3,267.7 212.5,265.8 212.8,264.0 213.0,262.2 213.2,260.4 213.4,258.6 213.6,256.8 213.9,255.1 214.1,253.3 214.3,251.6 214.6,249.9 214.8,248.3 215.0,246.6 215.3,245.0 215.5,243.4 215.8,241.9 216.0,240.3 216.3,238.8 216.5,237.3 216.8,235.9 217.0,234.4 217.3,233.0 217.6,231.7 217.8,230.3 218.1,229.0 218.4,227.8 218.6,226.5 218.9,225.3 219.2,224.2 219.5,223.0 219.8,221.9 220.1,220.9 220.4,219.9 220.6,218.9 220.9,218.0 221.2,217.1 221.5,216.2 221.9,215.4 222.2,214.6 222.5,213.9 222.8,213.2 223.1,212.5 223.4,211.9 223.8,211.4 224.1,210.8 224.4,210.4 224.7,209.9 225.1,209.6 225.4,209.2 225.8,208.9 226.1,208.7 226.5,208.5 226.8,208.3 227.2,208.2 227.6,208.1 227.9,208.1 228.3,208.1 228.7,208.2 229.0,208.2 229.4,208.3 229.8,208.5 230.2,208.7 230.6,208.9 231.0,209.1 231.4,209.3 231.8,209.6 232.2,210.0 232.6,210.3 233.0,210.7 233.4,211.1 233.9,211.5 234.3,212.0 234.7,212.5 235.2,213.0 235.6,213.6 236.1,214.2 236.5,214.8 237.0,215.4 237.4,216.1 237.9,216.8 238.4,217.5 238.8,218.3 239.3,219.0 239.8,219.8 240.3,220.7 240.8,221.5 241.3,222.4 241.8,223.3 242.3,224.2 242.8,225.2 243.3,226.2 243.9,227.1 244.4,228.2 244.9,229.2 245.5,230.3 246.0,231.4 246.6,232.5 247.1,233.6 247.7,234.7 248.3,235.9 248.8,237.1 249.4,238.3 250.0,239.5 250.6,240.7 251.2,242.0 251.8,243.3 252.4,244.6 253.0,245.9 253.6,247.2 254.3,248.5 254.9,249.9 255.5,251.2 256.2,252.6 256.8,254.0 257.5,255.4 258.2,256.8 258.8,258.2 259.5,259.7 260.2,261.1 260.9,262.6 261.6,264.1 262.3,265.5 263.0,267.0 263.7,268.5 264.5,270.0 265.2,271.5 265.9,273.1 266.7,274.6 267.5,276.1 268.2,277.7 269.0,279.2 269.8,280.8 270.6,282.3 271.4,283.9 272.2,285.4 273.0,287.0 273.8,288.6 274.6,290.1 275.5,291.7 276.3,293.3 277.2,294.8 278.0,296.4 278.9,298.0 279.8,299.6 280.7,301.1 281.6,302.7 282.5,304.3 283.4,305.9 284.3,307.4 285.3,309.0 286.2,310.6 287.2,312.1 288.1,313.7 289.1,315.3 290.1,316.8 291.1,318.4 292.1,319.9 293.1,321.4 294.1,323.0 295.2,324.5 296.2,326.0 297.2,327.5 298.3,329.0 299.4,330.5 300.5,332.0 301.6,333.5 302.7,335.0 303.8,336.4 304.9,337.9 306.1,339.3 307.2,340.8 308.4,342.2 309.6,343.6 310.8,345.0 312.0,346.4 313.2,347.8 314.4,349.2 315.6,350.6 316.9,351.9 318.1,353.2 319.4,354.6 320.7,355.9 322.0,357.2 323.3,358.5 324.6,359.8 326.0,361.1 327.3,362.3 328.7,363.6 330.1,364.8 331.5,366.0 332.9,367.2 334.3,368.4 335.7,369.6 337.2,370.8 338.7,371.9 340.1,373.1 341.6,374.2 343.1,375.3 344.7,376.4 346.2,377.4 347.8,378.5 349.3,379.5 350.9,380.5 352.5,381.5 354.1,382.5 355.8,383.4 357.4,384.4 359.1,385.3 360.8,386.2 362.5,387.1 364.2,388.0 365.9,388.9 367.7,389.8 369.5,390.6 371.2,391.4 373.1,392.3 374.9,393.1 376.7,393.9 378.6,394.6 380.5,395.4 382.4,396.1 384.3,396.9 386.2,397.6 388.2,398.3 390.1,399.0 392.1,399.7 394.2,400.4 396.2,401.0 398.3,401.7 400.3,402.3 402.4,403.0 404.5,403.6 406.7,404.2 408.8,404.8 411.0,405.4 413.2,406.0 415.5,406.5 417.7,407.1 420.0,407.6 422.3,408.1 424.6,408.7 426.9,409.2 429.3,409.7 431.7,410.2 434.1,410.7" fill="none" stroke="#c25870" stroke-width="1.5" stroke-linejoin="round"/>
<polyline points="434.1,410.7 436.5,411.1 439.0,411.6 441.5,412.1 444.0,412.5 446.5,412.9 449.1,413.4 451.7,413.8 454.3,414.2 456.9,414.6 459.6,415.0 462.3,415.4 465.0,415.8 467.8,416.2 470.5,416.5 473.3,416.9 476.2,417.2 479.0,417.6 481.9,417.9 484.8,418.3 487.8,418.6 490.7,418.9 493.7,419.2 496.8,419.5 499.8,419.8 502.9,420.1 506.1,420.4 509.2,420.7 512.4,421.0 515.6,421.2 518.9,421.5 522.2,421.7 525.5,422.0 528.8,422.2 532.2,422.5 535.7,422.7 539.1,423.0 542.6,423.2 546.1,423.4 549.7,423.6 553.3,423.8 556.9,424.1 560.6,424.3 564.3,424.5 568.0,424.7 571.8,424.8 575.6,425.0 579.5,425.2 583.4,425.4 587.3,425.6 591.3,425.7 595.3,425.9 599.3,426.1 603.4,426.2 607.6,426.4 611.7,426.6 615.9,426.7 620.2,426.9 624.5,427.0 628.9,427.1 633.2,427.3 637.7,427.4 642.1,427.5 646.7,427.7 651.2,427.8 655.8,427.9 660.5,428.0 665.2,428.2 670.0,428.3 674.8,428.4 679.6,428.5 684.5,428.6 689.5,428.7 694.5,428.8 699.5,428.9" fill="none" stroke="#8a7078" stroke-width="1.5" stroke-linejoin="round"/>
<polyline points="200.4,404.0 200.5,403.1 200.6,402.3 200.7,401.4 200.8,400.4 200.9,399.5 201.0,398.6 201.1,397.6 201.2,396.6 201.3,395.6 201.4,394.5 201.5,393.5 201.6,392.4 201.7,391.3 201.9,390.2 202.0,389.1 202.1,387.9 202.2,386.7 202.3,385.5 202.4,384.3 202.5,383.1 202.7,381.8 202.8,380.5 202.9,379.2 203.0,377.9 203.1,376.6 203.3,375.2 203.4,373.9 203.5,372.5 203.6,371.0 203.8,369.6 203.9,368.1 204.0,366.7 204.2,365.2 204.3,363.7 204.4,362.1 204.6,360.6 204.7,359.0 204.8,357.4 205.0,355.8 205.1,354.2 205.3,352.6 205.4,350.9 205.6,349.3 205.7,347.6 205.9,345.9 206.0,344.2 206.2,342.5 206.3,340.7 206.5,339.0 206.6,337.2 206.8,335.4 207.0,333.6 207.1,331.8 207.3,330.0 207.5,328.2 207.6,326.4 207.8,324.5 208.0,322.7 208.1,320.8 208.3,318.9 208.5,317.1 208.7,315.2 208.8,313.3 209.0,311.4 209.2,309.5 209.4,307.6 209.6,305.7 209.8,303.8 210.0,302.0 210.2,300.1 210.4,298.2 210.6,296.3 210.8,294.4 211.0,292.5 211.2,290.6 211.4,288.7 211.6,286.9 211.8,285.0 212.0,283.1 212.2,281.3 212.4,279.5 212.6,277.6 212.9,275.8 213.1,274.0 213.3,272.2 213.5,270.5 213.8,268.7 214.0,266.9 214.2,265.2 214.5,263.5 214.7,261.8 215.0,260.2 215.2,258.5 215.5,256.9 215.7,255.3 216.0,253.7 216.2,252.1 216.5,250.6 216.7,249.1 217.0,247.6 217.3,246.1 217.5,244.7 217.8,243.3 218.1,242.0 218.3,240.6 218.6,239.3 218.9,238.0 219.2,236.8 219.5,235.6 219.8,234.4 220.1,233.3 220.4,232.2 220.7,231.1 221.0,230.1 221.3,229.1 221.6,228.2 221.9,227.3 222.2,226.4 222.5,225.6 222.8,224.8 223.2,224.0 223.5,223.3 223.8,222.6 224.2,222.0 224.5,221.4 224.8,220.9 225.2,220.4 225.5,220.0 225.9,219.5 226.2,219.2 226.6,218.9 227.0,218.6 227.3,218.4 227.7,218.2 228.1,218.0 228.5,218.0 228.8,217.9 229.2,217.9 229.6,217.9 230.0,218.0 230.4,218.1 230.8,218.2 231.2,218.3 231.6,218.5 232.0,218.7 232.5,219.0 232.9,219.2 233.3,219.5 233.7,219.8 234.2,220.2 234.6,220.6 235.1,221.0 235.5,221.4 236.0,221.9 236.4,222.4 236.9,222.9 237.3,223.4 237.8,224.0 238.3,224.6 238.8,225.2 239.3,225.9 239.8,226.6 240.3,227.3 240.8,228.0 241.3,228.8 241.8,229.6 242.3,230.4 242.8,231.2 243.4,232.1 243.9,232.9 244.4,233.9 245.0,234.8 245.5,235.7 246.1,236.7 246.6,237.7 247.2,238.7 247.8,239.8 248.4,240.8 248.9,241.9 249.5,243.0 250.1,244.1 250.7,245.3 251.3,246.4 252.0,247.6 252.6,248.8 253.2,250.0 253.8,251.2 254.5,252.5 255.1,253.8 255.8,255.0 256.5,256.3 257.1,257.6 257.8,259.0 258.5,260.3 259.2,261.6 259.9,263.0 260.6,264.4 261.3,265.8 262.0,267.2 262.7,268.6 263.4,270.0 264.2,271.4 264.9,272.9 265.7,274.3 266.4,275.8 267.2,277.2 268.0,278.7 268.8,280.2 269.6,281.7 270.4,283.2 271.2,284.7 272.0,286.2 272.8,287.7 273.7,289.2 274.5,290.7 275.4,292.2 276.2,293.8 277.1,295.3 278.0,296.8 278.9,298.4 279.8,299.9 280.7,301.4 281.6,302.9 282.5,304.5 283.4,306.0 284.4,307.5 285.3,309.1 286.3,310.6 287.3,312.1 288.2,313.7 289.2,315.2 290.2,316.7 291.3,318.2 292.3,319.7 293.3,321.2 294.4,322.7 295.4,324.2 296.5,325.7 297.5,327.2 298.6,328.7 299.7,330.1 300.8,331.6 302.0,333.1 303.1,334.5 304.2,336.0 305.4,337.4 306.6,338.8 307.7,340.2 308.9,341.7 310.1,343.1 311.4,344.5 312.6,345.8 313.8,347.2 315.1,348.6 316.3,349.9 317.6,351.3 318.9,352.6 320.2,353.9 321.5,355.2 322.9,356.5 324.2,357.8 325.6,359.1 326.9,360.4 328.3,361.6 329.7,362.9 331.1,364.1 332.6,365.3 334.0,366.5 335.5,367.7 337.0,368.9 338.4,370.1 339.9,371.2 341.5,372.4 343.0,373.5 344.6,374.6 346.1,375.7 347.7,376.8 349.3,377.9 350.9,378.9 352.5,379.9 354.2,380.9 355.9,381.9 357.5,382.9 359.2,383.9 361.0,384.8 362.7,385.7 364.4,386.6 366.2,387.5 368.0,388.4 369.8,389.3 371.6,390.2 373.5,391.0 375.3,391.8 377.2,392.6 379.1,393.4 381.0,394.2 383.0,395.0 384.9,395.8 386.9,396.5 388.9,397.3 390.9,398.0 393.0,398.7 395.0,399.4 397.1,400.1 399.2,400.8 401.3,401.4 403.5,402.1 405.7,402.7 407.8,403.4 410.1,404.0 412.3,404.6 414.5,405.2 416.8,405.8 419.1,406.3 421.5,406.9 423.8,407.4 426.2,408.0 428.6,408.5 431.0,409.0 433.5,409.6" fill="none" stroke="#de86a2" stroke-width="1.5" stroke-linejoin="round"/>
<polyline points="433.5,409.6 435.9,410.1 438.4,410.6 441.0,411.0 443.5,411.5 446.1,412.0 448.7,412.4 451.3,412.9 454.0,413.3 456.7,413.8 459.4,414.2 462.1,414.6 464.9,415.0 467.7,415.4 470.5,415.8 473.3,416.2 476.2,416.5 479.1,416.9 482.1,417.3 485.0,417.6 488.0,418.0 491.1,418.3 494.1,418.6 497.2,418.9 500.3,419.3 503.5,419.6 506.7,419.9 509.9,420.2 513.2,420.5 516.5,420.8 519.8,421.0 523.1,421.3 526.5,421.6 529.9,421.8 533.4,422.1 536.9,422.3 540.4,422.6 544.0,422.8 547.6,423.1 551.2,423.3 554.9,423.5 558.6,423.7 562.4,424.0 566.2,424.2 570.0,424.4 573.8,424.6 577.8,424.8 581.7,425.0 585.7,425.2 589.7,425.4 593.8,425.5 597.9,425.7 602.0,425.9 606.2,426.1 610.5,426.2 614.8,426.4 619.1,426.5 623.4,426.7 627.9,426.9 632.3,427.0 636.8,427.1 641.4,427.3 646.0,427.4 650.6,427.6 655.3,427.7 660.0,427.8 664.8,428.0 669.6,428.1 674.5,428.2 679.5,428.3 684.4,428.4 689.5,428.5 694.6,428.7 699.7,428.8 704.9,428.9 710.1,429.0 715.4,429.1 720.8,429.2 726.2,429.3 731.7,429.4 737.2,429.5" fill="none" stroke="#9c8890" stroke-width="1.5" stroke-linejoin="round"/>
<rect x="191.0" y="13.5" width="565.0" height="420.0" fill="none" stroke="#3a3a3a" stroke-width="1.6"/>
<line x1="191.0" y1="377.5" x2="199.0" y2="377.5" stroke="#3a3a3a" stroke-width="1.3"/>
<line x1="191.0" y1="321.5" x2="199.0" y2="321.5" stroke="#3a3a3a" stroke-width="1.3"/>
<line x1="191.0" y1="265.5" x2="199.0" y2="265.5" stroke="#3a3a3a" stroke-width="1.3"/>
<line x1="191.0" y1="209.5" x2="199.0" y2="209.5" stroke="#3a3a3a" stroke-width="1.3"/>
<line x1="191.0" y1="153.5" x2="199.0" y2="153.5" stroke="#3a3a3a" stroke-width="1.3"/>
<line x1="191.0" y1="97.5" x2="199.0" y2="97.5" stroke="#3a3a3a" stroke-width="1.3"/>
<line x1="191.0" y1="41.5" x2="199.0" y2="41.5" stroke="#3a3a3a" stroke-width="1.3"/>
<line x1="285.2" y1="433.5" x2="285.2" y2="427.5" stroke="#3a3a3a" stroke-width="1.3"/>
<line x1="379.3" y1="433.5" x2="379.3" y2="427.5" stroke="#3a3a3a" stroke-width="1.3"/>
<line x1="473.5" y1="433.5" x2="473.5" y2="427.5" stroke="#3a3a3a" stroke-width="1.3"/>
<line x1="567.7" y1="433.5" x2="567.7" y2="427.5" stroke="#3a3a3a" stroke-width="1.3"/>
<line x1="661.8" y1="433.5" x2="661.8" y2="427.5" stroke="#3a3a3a" stroke-width="1.3"/>
</g>
<g font-family="'Liberation Serif', 'Noto Serif CJK SC', serif" font-size="26" fill="#222">
<g text-anchor="end">
<text x="180" y="440.8">0</text>
<text x="180" y="384.8">0.02</text>
<text x="180" y="328.8">0.04</text>
<text x="180" y="272.8">0.06</text>
<text x="180" y="216.8">0.08</text>
<text x="180" y="160.8">0.10</text>
<text x="180" y="104.8">0.12</text>
<text x="180" y="48.8">0.14</text>
</g>
<g text-anchor="middle">
<text x="191.0" y="461.5">0</text>
<text x="285.2" y="461.5">0.01</text>
<text x="379.3" y="461.5">0.02</text>
<text x="473.5" y="461.5">0.03</text>
<text x="567.7" y="461.5">0.04</text>
<text x="661.8" y="461.5">0.05</text>
<text x="756.0" y="461.5">0.06</text>
</g>
<line x1="553" y1="52.0" x2="592.5" y2="52.0" stroke="#2a2a2a" stroke-width="1.4"/>
<text x="601.5" y="59.0">100 L/min</text>
<line x1="553" y1="75.1" x2="592.5" y2="75.1" stroke="#555" stroke-width="1.4"/>
<text x="601.5" y="82.1">150 L/min</text>
<line x1="553" y1="98.2" x2="592.5" y2="98.2" stroke="#999" stroke-width="1.4"/>
<text x="601.5" y="105.2">200 L/min</text>
<line x1="553" y1="121.3" x2="592.5" y2="121.3" stroke="#2e2e2e" stroke-width="1.4"/>
<text x="601.5" y="128.3">250 L/min</text>
<line x1="553" y1="144.4" x2="592.5" y2="144.4" stroke="#bbb" stroke-width="1.4"/>
<text x="601.5" y="151.4">300 L/min</text>
<line x1="553" y1="167.5" x2="592.5" y2="167.5" stroke="#888" stroke-width="1.4"/>
<text x="601.5" y="174.5">350 L/min</text>
<line x1="553" y1="190.6" x2="592.5" y2="190.6" stroke="#aaa" stroke-width="1.4"/>
<text x="601.5" y="197.6">400 L/min</text>
<text transform="translate(116,223) rotate(-90)" text-anchor="middle" font-size="27">气泡生成概率</text>
<text x="472.7" y="501" text-anchor="middle"><tspan font-size="27">氩气泡粒径</tspan>/m</text>
<text x="473" y="545.5" text-anchor="middle">(a) <tspan font-size="26.7">气泡粒径的概率分布</tspan></text>
<g text-anchor="end">
<text x="932.5" y="440.6">0</text>
<text x="932.5" y="356.8">0.02</text>
<text x="932.5" y="272.9">0.04</text>
<text x="932.5" y="189.1">0.06</text>
<text x="932.5" y="105.2">0.08</text>
<text x="932.5" y="21.4">0.10</text>
</g>
<text transform="translate(969.2,442.5) rotate(-90)" text-anchor="end" letter-spacing="0.5">50~60</text>
<text transform="translate(1007.0,442.5) rotate(-90)" text-anchor="end" letter-spacing="0.5">60~70</text>
<text transform="translate(1044.7,442.5) rotate(-90)" text-anchor="end" letter-spacing="0.5">70~80</text>
<text transform="translate(1082.5,442.5) rotate(-90)" text-anchor="end" letter-spacing="0.5">80~90</text>
<text transform="translate(1120.2,442.5) rotate(-90)" text-anchor="end" letter-spacing="0.5">90~100</text>
<text transform="translate(1158.0,442.5) rotate(-90)" text-anchor="end" letter-spacing="0.5">100~110</text>
<text transform="translate(1195.8,442.5) rotate(-90)" text-anchor="end" letter-spacing="0.5">110~120</text>
<text transform="translate(1233.5,442.5) rotate(-90)" text-anchor="end" letter-spacing="0.5">120~130</text>
<text transform="translate(1271.3,442.5) rotate(-90)" text-anchor="end" letter-spacing="0.5">130~140</text>
<text transform="translate(1309.0,442.5) rotate(-90)" text-anchor="end" letter-spacing="0.5">140~150</text>
<text transform="translate(1346.8,442.5) rotate(-90)" text-anchor="end" letter-spacing="0.5">150~160</text>
<text transform="translate(1384.6,442.5) rotate(-90)" text-anchor="end" letter-spacing="0.5">160~170</text>
<text transform="translate(1422.3,442.5) rotate(-90)" text-anchor="end" letter-spacing="0.5">170~180</text>
<text transform="translate(1460.1,442.5) rotate(-90)" text-anchor="end" letter-spacing="0.5">180~190</text>
<text transform="translate(1497.8,442.5) rotate(-90)" text-anchor="end" letter-spacing="0.5">190~200</text>
<text transform="translate(868,224) rotate(-90)" text-anchor="middle" font-size="27">不同粒径夹杂物占比</text>
<text x="1225" y="563.5" text-anchor="middle"><tspan font-size="27">夹杂物粒径</tspan>/μm</text>
<text x="1223" y="605.5" text-anchor="middle">(b) <tspan font-size="26.5">初始夹杂物粒径分布</tspan></text>
</g>
<g id="chart-b">
<line x1="942.8" y1="349.5" x2="949.3" y2="349.5" stroke="#111" stroke-width="1.3"/>
<line x1="942.8" y1="265.6" x2="949.3" y2="265.6" stroke="#111" stroke-width="1.3"/>
<line x1="942.8" y1="181.8" x2="949.3" y2="181.8" stroke="#111" stroke-width="1.3"/>
<line x1="942.8" y1="97.9" x2="949.3" y2="97.9" stroke="#111" stroke-width="1.3"/>
<rect x="976.4" y="168" width="5.8" height="265.3" fill="#f3f9d6"/>
<rect x="1014.2" y="168" width="5.8" height="265.3" fill="#ffe0ef"/>
<rect x="1051.9" y="176" width="5.8" height="257.3" fill="#fff0d6"/>
<rect x="1089.7" y="176" width="5.8" height="257.3" fill="#ffe0ef"/>
<rect x="1127.4" y="152" width="5.8" height="281.3" fill="#ffe0ef"/>
<rect x="1165.2" y="152" width="5.8" height="281.3" fill="#fff0d6"/>
<rect x="1203.0" y="168" width="5.8" height="265.3" fill="#ffe0ef"/>
<rect x="1240.7" y="168" width="5.8" height="265.3" fill="#eef9d2"/>
<rect x="1278.5" y="160" width="5.8" height="273.3" fill="#eef9d2"/>
<rect x="1316.2" y="168" width="5.8" height="265.3" fill="#ffe0ef"/>
<rect x="1354.0" y="168" width="5.8" height="265.3" fill="#eef9d2"/>
<rect x="1391.8" y="168" width="5.8" height="265.3" fill="#eef9d2"/>
<rect x="1429.5" y="168" width="5.8" height="265.3" fill="#ffe0ef"/>
<rect x="1467.3" y="168" width="5.8" height="265.3" fill="#eef9d2"/>
<rect x="976.4" y="224" width="5.8" height="16" fill="#f4f7f2"/>
<rect x="976.4" y="256" width="5.8" height="32" fill="#f4f7f2"/>
<rect x="976.4" y="304" width="5.8" height="129.3" fill="#f4f7f2"/>
<rect x="1165.2" y="192" width="5.8" height="16" fill="#e6f2c4"/>
<rect x="1165.2" y="240" width="5.8" height="16" fill="#e6f2c4"/>
<rect x="1165.2" y="288" width="5.8" height="32" fill="#e6f2c4"/>
<rect x="1165.2" y="336" width="5.8" height="32" fill="#e6f2c4"/>
<rect x="1165.2" y="384" width="5.8" height="16" fill="#e6f2c4"/>
<rect x="945.2" y="154.1" width="30.4" height="279.2" fill="url(#hb)" stroke="#a06a3e" stroke-width="1.6"/>
<rect x="983.0" y="168.7" width="30.4" height="264.6" fill="url(#hb)" stroke="#a06a3e" stroke-width="1.6"/>
<rect x="1020.7" y="148.2" width="30.4" height="285.1" fill="url(#hb)" stroke="#a06a3e" stroke-width="1.6"/>
<rect x="1058.5" y="169.6" width="30.4" height="263.7" fill="url(#hb)" stroke="#a06a3e" stroke-width="1.6"/>
<rect x="1096.2" y="151.6" width="30.4" height="281.7" fill="url(#hb)" stroke="#a06a3e" stroke-width="1.6"/>
<rect x="1134.0" y="136.0" width="30.4" height="297.3" fill="url(#hb)" stroke="#a06a3e" stroke-width="1.6"/>
<rect x="1171.8" y="151.6" width="30.4" height="281.7" fill="url(#hb)" stroke="#a06a3e" stroke-width="1.6"/>
<rect x="1209.5" y="166.2" width="30.4" height="267.1" fill="url(#hb)" stroke="#a06a3e" stroke-width="1.6"/>
<rect x="1247.3" y="136.5" width="30.4" height="296.8" fill="url(#hb)" stroke="#a06a3e" stroke-width="1.6"/>
<rect x="1285.0" y="153.2" width="30.4" height="280.1" fill="url(#hb)" stroke="#a06a3e" stroke-width="1.6"/>
<rect x="1322.8" y="164.1" width="30.4" height="269.2" fill="url(#hb)" stroke="#a06a3e" stroke-width="1.6"/>
<rect x="1360.6" y="146.1" width="30.4" height="287.2" fill="url(#hb)" stroke="#a06a3e" stroke-width="1.6"/>
<rect x="1398.3" y="162.0" width="30.4" height="271.3" fill="url(#hb)" stroke="#a06a3e" stroke-width="1.6"/>
<rect x="1436.1" y="145.3" width="30.4" height="288.0" fill="url(#hb)" stroke="#a06a3e" stroke-width="1.6"/>
<rect x="1473.8" y="167.9" width="30.4" height="265.4" fill="url(#hb)" stroke="#a06a3e" stroke-width="1.6"/>
<rect x="984.0" y="168" width="8.0" height="265.3" fill="url(#hr)"/>
<rect x="1008.0" y="168" width="6.2" height="265.3" fill="url(#hu)"/>
<rect x="1096.0" y="152" width="8.0" height="281.3" fill="url(#hu)"/>
<rect x="1120.0" y="152" width="7.4" height="281.3" fill="url(#hu)"/>
<rect x="1210.0" y="168" width="7.0" height="265.3" fill="url(#hu)"/>
<rect x="1232.0" y="168" width="8.0" height="265.3" fill="url(#hr)"/>
<rect x="1288.0" y="160" width="8.0" height="273.3" fill="url(#hr)"/>
<rect x="1311.0" y="160" width="5.2" height="273.3" fill="url(#hu)"/>
<rect x="1322.0" y="168" width="6.0" height="265.3" fill="url(#hu)"/>
<rect x="1344.0" y="168" width="8.0" height="265.3" fill="url(#hr)"/>
<rect x="1400.0" y="168" width="8.0" height="265.3" fill="url(#hr)"/>
<rect x="1424.0" y="168" width="5.5" height="265.3" fill="url(#hu)"/>
<rect x="1435.3" y="152" width="4.7" height="281.3" fill="url(#hu)"/>
<rect x="1456.0" y="152" width="8.0" height="281.3" fill="url(#hr)"/>
<rect x="984" y="224" width="8" height="16" fill="url(#hp)"/>
<rect x="984" y="256" width="8" height="32" fill="url(#hp)"/>
<rect x="984" y="304" width="8" height="129.3" fill="url(#hp)"/>
<rect x="1177" y="192" width="7" height="16" fill="url(#hr)"/>
<rect x="1177" y="240" width="7" height="16" fill="url(#hr)"/>
<rect x="1177" y="288" width="7" height="32" fill="url(#hr)"/>
<rect x="1177" y="336" width="7" height="32" fill="url(#hr)"/>
<rect x="1177" y="384" width="7" height="16" fill="url(#hr)"/>
<rect x="944.4" y="153.3" width="8.0" height="6.7" fill="#8a8a8a" opacity="0.9"/>
<rect x="952.4" y="153.3" width="8.0" height="6.7" fill="#8a8a8a" opacity="0.9"/>
<rect x="960.4" y="153.3" width="8.0" height="6.7" fill="#c9749a" opacity="0.9"/>
<rect x="968.4" y="153.3" width="8.0" height="6.7" fill="#c9749a" opacity="0.9"/>
<rect x="982.2" y="167.9" width="8.0" height="8.1" fill="#8a8a8a" opacity="0.9"/>
<rect x="990.2" y="167.9" width="8.0" height="8.1" fill="#cf4a7e" opacity="0.9"/>
<rect x="998.2" y="167.9" width="8.0" height="8.1" fill="#cf4a7e" opacity="0.9"/>
<rect x="1006.2" y="167.9" width="8.0" height="8.1" fill="#8a8a8a" opacity="0.9"/>
<rect x="1057.7" y="168.8" width="8.0" height="7.2" fill="#8a8a8a" opacity="0.9"/>
<rect x="1065.7" y="168.8" width="8.0" height="7.2" fill="#8a8a8a" opacity="0.9"/>
<rect x="1073.7" y="168.8" width="8.0" height="7.2" fill="#d4507f" opacity="0.9"/>
<rect x="1081.7" y="168.8" width="8.0" height="7.2" fill="#d4507f" opacity="0.9"/>
<rect x="1095.4" y="150.8" width="8.0" height="9.2" fill="#7d7d7d" opacity="0.9"/>
<rect x="1103.4" y="150.8" width="8.0" height="9.2" fill="#d8584c" opacity="0.9"/>
<rect x="1111.4" y="150.8" width="8.0" height="9.2" fill="#d8584c" opacity="0.9"/>
<rect x="1119.4" y="150.8" width="8.0" height="9.2" fill="#7d7d7d" opacity="0.9"/>
<rect x="1133.2" y="135.2" width="8.0" height="8.8" fill="#c8467c" opacity="0.9"/>
<rect x="1141.2" y="135.2" width="8.0" height="8.8" fill="#c8467c" opacity="0.9"/>
<rect x="1149.2" y="135.2" width="8.0" height="8.8" fill="#a86a90" opacity="0.9"/>
<rect x="1157.2" y="135.2" width="8.0" height="8.8" fill="#a86a90" opacity="0.9"/>
<rect x="1171.0" y="150.8" width="8.0" height="9.2" fill="#a6789a" opacity="0.9"/>
<rect x="1179.0" y="150.8" width="8.0" height="9.2" fill="#d8584c" opacity="0.9"/>
<rect x="1187.0" y="150.8" width="8.0" height="9.2" fill="#d8584c" opacity="0.9"/>
<rect x="1195.0" y="150.8" width="8.0" height="9.2" fill="#7d7d7d" opacity="0.9"/>
<rect x="1208.7" y="165.4" width="8.0" height="10.6" fill="#8a8a8a" opacity="0.9"/>
<rect x="1216.7" y="165.4" width="8.0" height="10.6" fill="#d8584c" opacity="0.9"/>
<rect x="1224.7" y="165.4" width="8.0" height="10.6" fill="#d8584c" opacity="0.9"/>
<rect x="1232.7" y="165.4" width="8.0" height="10.6" fill="#8a8a8a" opacity="0.9"/>
<rect x="1246.5" y="135.7" width="8.0" height="8.3" fill="#c8467c" opacity="0.9"/>
<rect x="1254.5" y="135.7" width="8.0" height="8.3" fill="#c8467c" opacity="0.9"/>
<rect x="1262.5" y="135.7" width="8.0" height="8.3" fill="#8a8a8a" opacity="0.9"/>
<rect x="1270.5" y="135.7" width="8.0" height="8.3" fill="#8a8a8a" opacity="0.9"/>
<rect x="1284.2" y="152.4" width="8.0" height="7.6" fill="#d8584c" opacity="0.9"/>
<rect x="1292.2" y="152.4" width="8.0" height="7.6" fill="#d8584c" opacity="0.9"/>
<rect x="1300.2" y="152.4" width="8.0" height="7.6" fill="#d8584c" opacity="0.9"/>
<rect x="1308.2" y="152.4" width="8.0" height="7.6" fill="#8a8a8a" opacity="0.9"/>
<rect x="1322.0" y="163.3" width="8.0" height="4.7" fill="#b08a78" opacity="0.9"/>
<rect x="1330.0" y="163.3" width="8.0" height="4.7" fill="#b08a78" opacity="0.9"/>
<rect x="1338.0" y="163.3" width="8.0" height="4.7" fill="#a6789a" opacity="0.9"/>
<rect x="1346.0" y="163.3" width="8.0" height="4.7" fill="#b08a78" opacity="0.9"/>
<rect x="1397.5" y="161.2" width="8.0" height="6.8" fill="#a6789a" opacity="0.9"/>
<rect x="1405.5" y="161.2" width="8.0" height="6.8" fill="#b08a78" opacity="0.9"/>
<rect x="1413.5" y="161.2" width="8.0" height="6.8" fill="#b08a78" opacity="0.9"/>
<rect x="1421.5" y="161.2" width="8.0" height="6.8" fill="#b08a78" opacity="0.9"/>
<rect x="1473.0" y="167.1" width="8.0" height="8.9" fill="#cf4a7e" opacity="0.9"/>
<rect x="1481.0" y="167.1" width="8.0" height="8.9" fill="#cf4a7e" opacity="0.9"/>
<rect x="1489.0" y="167.1" width="8.0" height="8.9" fill="#d8584c" opacity="0.9"/>
<rect x="1497.0" y="167.1" width="8.0" height="8.9" fill="#d8584c" opacity="0.9"/>
<rect x="942.8" y="14.1" width="564.2" height="419.2" fill="none" stroke="#111" stroke-width="1.8"/>
</g>
</svg>
</body>
</html>
